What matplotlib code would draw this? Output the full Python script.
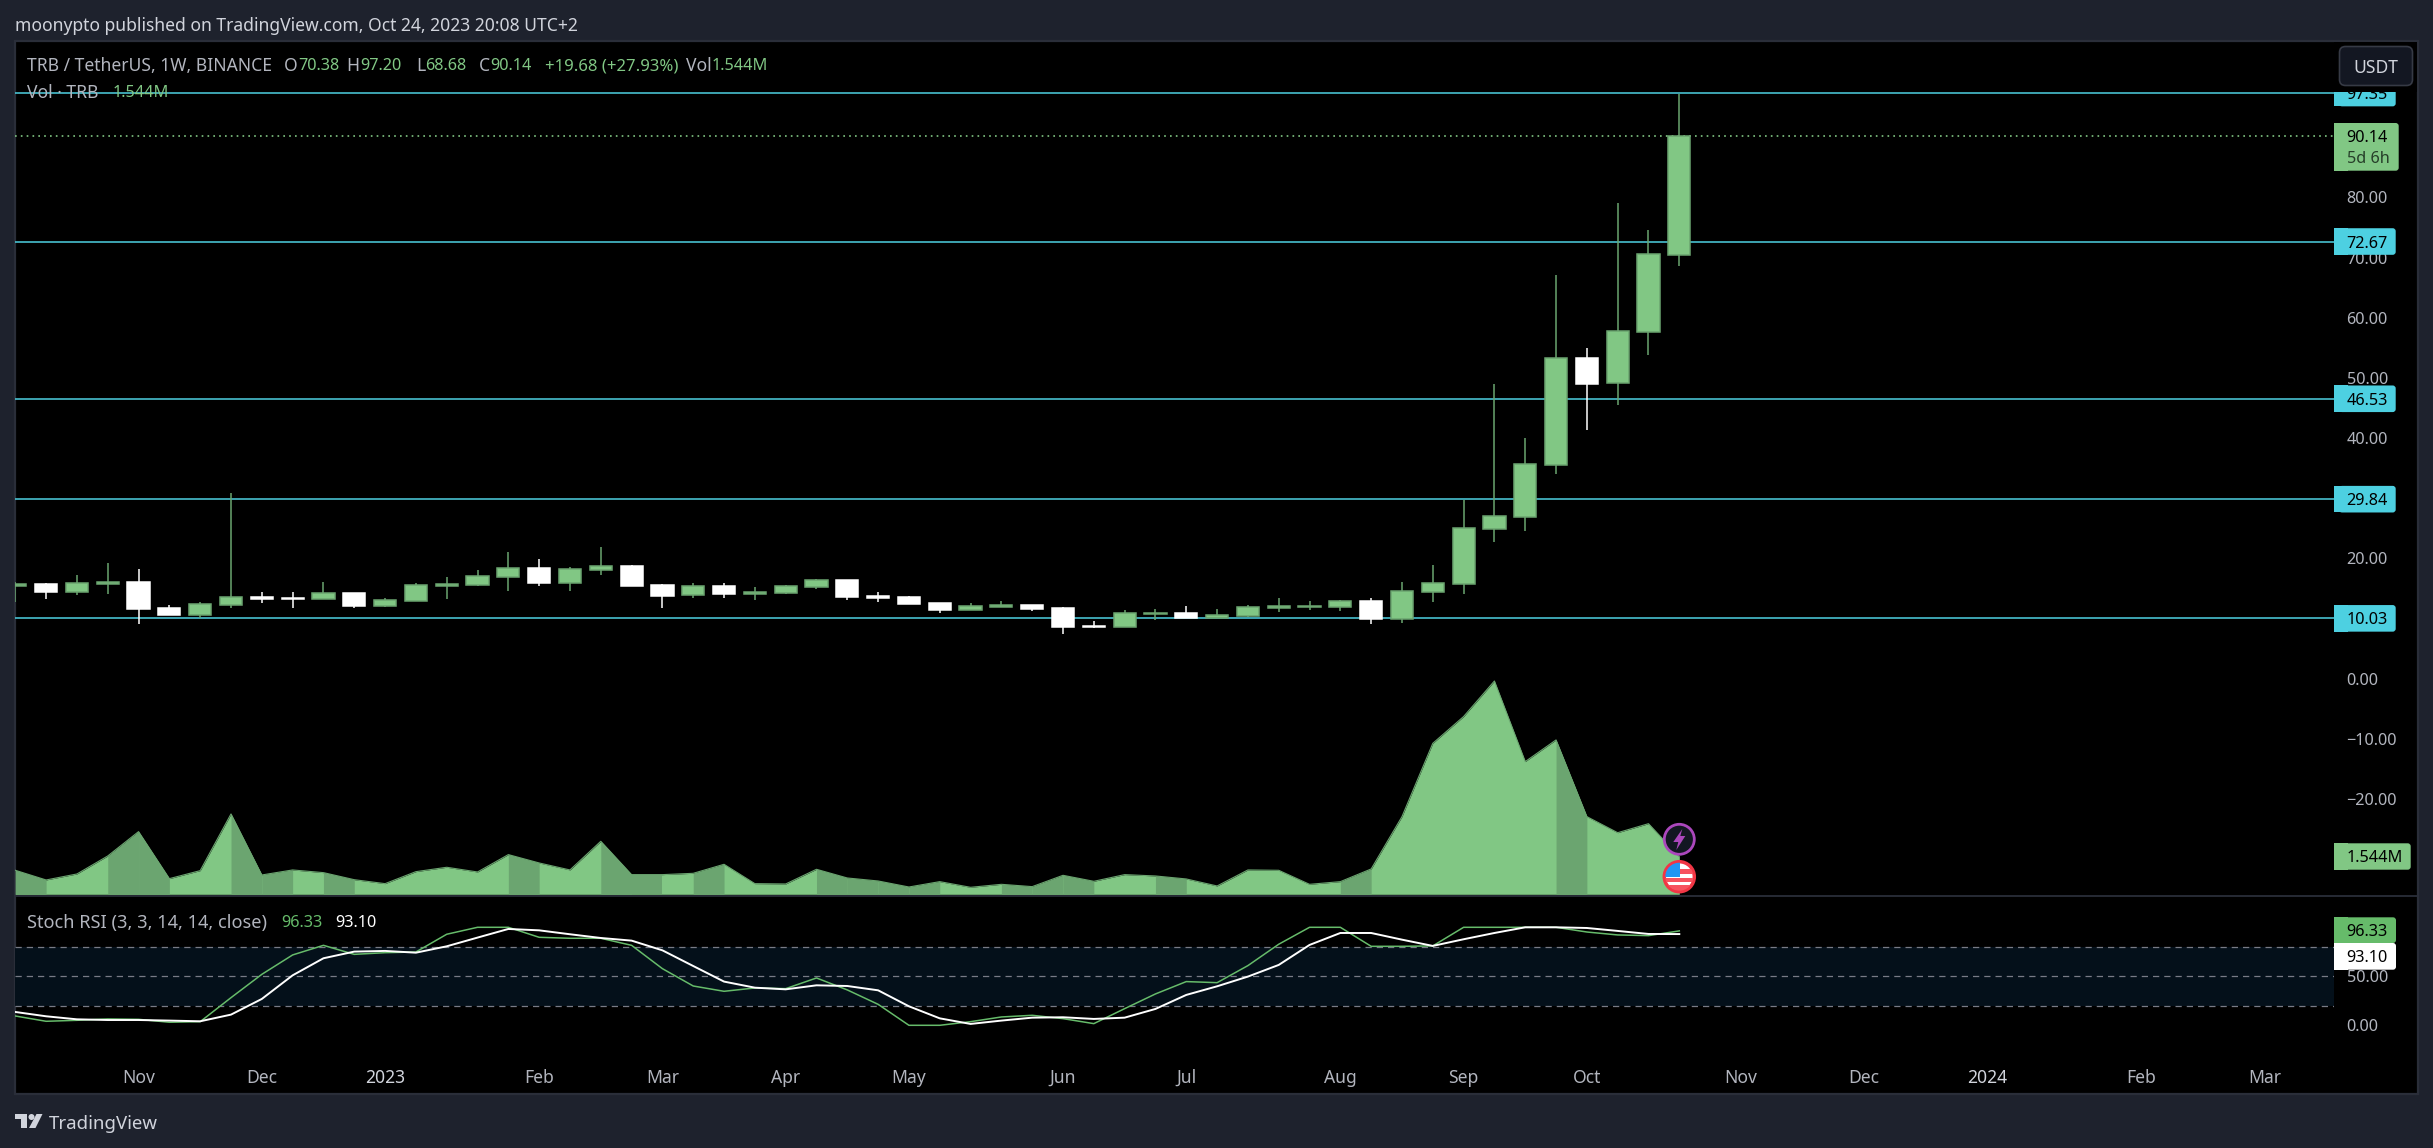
import matplotlib
matplotlib.use("Agg")
import matplotlib.pyplot as plt
from matplotlib.patches import Rectangle, FancyBboxPatch, Circle, Polygon

W, H = 2433, 1148

opens = [15.41, 15.74, 14.41, 15.74, 16.07, 11.75, 10.59, 12.25, 13.58, 13.42, 13.25, 14.25, 12.08, 12.92,
         15.41, 15.58, 16.9, 18.4, 15.9, 18.07, 18.73, 15.58, 13.91, 15.41, 14.08, 14.25, 15.24, 16.41,
         13.75, 13.58, 12.58, 11.42, 11.92, 12.25, 11.75, 8.76, 8.6, 10.76, 10.92, 10.09, 10.42, 11.75,
         11.92, 11.92, 12.92, 10.0, 14.45, 15.82, 24.96, 26.92, 35.58, 53.34, 49.18, 57.67, 70.38]
highs = [16.07, 15.9, 17.24, 19.23, 18.23, 12.25, 12.75, 30.8, 14.41, 14.41, 16.07, 14.25, 13.42, 15.9,
         16.9, 18.07, 21.06, 19.9, 18.57, 21.89, 18.9, 15.74, 15.9, 15.9, 15.24, 15.58, 16.57, 16.41,
         14.41, 13.75, 12.58, 12.58, 12.92, 12.25, 11.92, 9.59, 11.42, 11.59, 12.08, 11.59, 12.25, 13.42,
         12.92, 13.08, 13.42, 16.05, 18.9, 29.71, 48.98, 39.98, 67.11, 55.0, 79.04, 74.59, 97.2]
lows = [12.8, 13.25, 13.91, 14.08, 9.09, 10.59, 10.04, 11.75, 12.58, 11.75, 13.25, 11.75, 11.92, 12.92,
        13.25, 15.41, 14.58, 15.41, 14.58, 17.24, 15.41, 11.75, 13.42, 13.42, 13.08, 14.08, 14.91, 13.08,
        12.75, 12.42, 10.92, 11.42, 11.92, 11.25, 7.43, 8.43, 8.6, 9.76, 10.09, 10.09, 10.26, 11.09,
        11.42, 11.25, 9.09, 9.28, 12.67, 14.15, 22.76, 24.6, 34.1, 41.4, 45.56, 53.87, 68.68]
closes = [15.74, 14.41, 15.9, 16.07, 11.59, 10.59, 12.42, 13.58, 13.25, 13.25, 14.25, 12.08, 13.08, 15.58,
          15.74, 17.07, 18.4, 15.9, 18.23, 18.73, 15.41, 13.75, 15.41, 14.08, 14.41, 15.41, 16.41, 13.58,
          13.42, 12.42, 11.42, 12.08, 12.25, 11.59, 8.6, 8.6, 10.92, 10.92, 10.09, 10.59, 11.92, 12.08,
          12.08, 12.92, 9.92, 14.57, 15.93, 25.08, 26.97, 35.64, 53.28, 48.98, 57.73, 70.55, 90.14]
# millions
volume = [0.986, 0.589, 0.835, 1.574, 2.574, 0.643, 0.972, 3.30, 0.794, 1.0, 0.89, 0.60, 0.438, 0.93,
          1.11, 0.917, 1.63, 1.287, 1.0, 2.177, 0.808, 0.808, 0.862, 1.232, 0.438, 0.424, 1.027, 0.67,
          0.547, 0.30, 0.52, 0.287, 0.41, 0.315, 0.78, 0.534, 0.808, 0.753, 0.63, 0.342, 1.0, 0.986,
          0.41, 0.52, 1.04, 3.19, 6.2, 7.3, 8.76, 5.45, 6.34, 3.19, 2.53, 2.90, 1.544]
dark_segments = [0, 3, 4, 7, 8, 10, 16, 19, 20, 22, 26, 27, 28, 29, 32, 33, 34, 37, 43, 50]
stoch_k = [9.5, 4.1, 5.1, 6.5, 6.1, 3.1, 3.7, 28.2, 52.0, 71.8, 81.6, 72.4, 74.1, 74.8, 92.9, 100, 100,
           89.8, 88.8, 88.8, 81.6, 57.8, 40.1, 34.7, 38.1, 37.4, 48.3, 36.1, 21.4, 0, 0, 3.7, 8.5, 10.2,
           6.8, 1.7, 17.0, 32.0, 44.6, 43.5, 60.9, 82.7, 100, 100, 80.6, 80.6, 81.0, 100, 100, 100, 100,
           95.2, 92.2, 91.5, 96.33]
stoch_d = [13.6, 9.2, 6.1, 5.4, 5.4, 4.8, 4.1, 10.9, 26.9, 51.0, 68.4, 75.2, 75.9, 74.1, 80.6, 89.5, 98.3,
           96.9, 92.9, 89.1, 86.4, 76.5, 60.5, 44.6, 38.4, 36.7, 40.8, 40.1, 35.7, 19.4, 7.1, 1.4, 4.8, 7.8,
           8.2, 6.5, 7.8, 16.7, 31.0, 39.8, 49.7, 61.6, 82.0, 94.2, 94.2, 87.4, 81.0, 87.8, 94.2, 100, 100,
           99.3, 96.3, 93.2, 93.10]
levels = [97.35, 72.67, 46.53, 29.84, 10.03]
last_price = 90.14
price_ticks = [90, 80, 70, 60, 50, 40, 30, 20, 10, 0, -10, -20]
stoch_ticks = [100, 50, 0]
stoch_bands = [80, 50, 20]
month_pos = [4, 8, 12, 17, 21, 25, 29, 34, 38, 43, 47, 51, 56, 60, 64, 69, 73]
month_names = ["Nov", "Dec", "2023", "Feb", "Mar", "Apr", "May", "Jun", "Jul", "Aug", "Sep", "Oct",
               "Nov", "Dec", "2024", "Feb", "Mar"]

FONT = "Noto Sans"
BG = "#1e222d"
BORDER = "#2a2e39"
GREY = "#b2b5be"
GREEN = "#81c784"
GREEN_DK = "#6ba570"
GREEN_ST = "#66bb6a"
CYAN = "#4dd0e1"
FS = 12.6
FS_NUM = 11.7

plt.rcParams["font.family"] = FONT

# pixel layout
L, R = 15, 2334
TOP, SEP, BOT = 41, 896, 1094
BAR0, STEP = 15.3, 30.815
PRICE0, PX_PRICE = 678.7, 6.016
VOL0, PX_VOL = 894.3, 24.35
RSI0, PX_RSI = 1025.3, 0.98


def rect(x0, y0, x1, y1):
    return [x0 / W, 1 - y1 / H, (x1 - x0) / W, (y1 - y0) / H]


def price_y(p):
    return PRICE0 - p * PX_PRICE


fig = plt.figure(figsize=(W / 100, H / 100), dpi=100, facecolor=BG)

bg = fig.add_axes([0, 0, 1, 1], zorder=0)
bg.set_xlim(0, W)
bg.set_ylim(H, 0)
bg.axis("off")
bg.add_patch(Rectangle((L, TOP), 2418 - L, BOT - TOP, fc="black", ec=BORDER, lw=1.6))

xlim = ((L - BAR0) / STEP, (R - BAR0) / STEP)
x = list(range(len(closes)))

# price pane
ax = fig.add_axes(rect(L, TOP, R, SEP), zorder=1, facecolor="none")
ax.set_xlim(*xlim)
ax.set_ylim((PRICE0 - SEP) / PX_PRICE, (PRICE0 - TOP) / PX_PRICE)
for s in ax.spines.values():
    s.set_visible(False)
ax.set_xticks([])

for lv in levels:
    ax.axhline(lv, color=CYAN, lw=1.1, zorder=1)
ax.axhline(last_price, color=GREEN, lw=1.2, ls=(0, (1, 2.5)), zorder=1)

for i in x:
    up = closes[i] >= opens[i]
    edge = GREEN_DK if up else "white"
    fill = GREEN if up else "white"
    ax.vlines(i, lows[i], highs[i], color=edge, lw=1.1, zorder=2)
    ax.bar(i, abs(closes[i] - opens[i]), bottom=min(opens[i], closes[i]), width=0.72,
           color=fill, edgecolor=edge, linewidth=1.1, zorder=3)

# volume area, shares the price pane
ax_vol = ax.twinx()
ax_vol.set_ylim((VOL0 - SEP) / PX_VOL, (VOL0 - TOP) / PX_VOL)
ax_vol.set_yticks([])
for s in ax_vol.spines.values():
    s.set_visible(False)
ax_vol.fill_between(x, volume, 0, color=GREEN, lw=0)
for i in dark_segments:
    ax_vol.fill_between(x[i:i + 2], volume[i:i + 2], 0, color=GREEN_DK, lw=0)
ax_vol.plot(x, volume, color=GREEN_DK, lw=0.8)

# twinx moved the price ticks to the left
ax.yaxis.tick_right()
ax.set_yticks(price_ticks)
ax.set_yticklabels([f"{t:.2f}".replace("-", "\u2212") for t in price_ticks], color=GREY, fontsize=FS_NUM)
ax.tick_params(axis="y", length=0, pad=9)

# stoch rsi pane
rsi = fig.add_axes(rect(L, SEP, R, BOT), zorder=1, facecolor="none")
rsi.set_xlim(*xlim)
rsi.set_ylim((RSI0 - BOT) / PX_RSI, (RSI0 - SEP) / PX_RSI)
for s in rsi.spines.values():
    s.set_visible(False)
rsi.axhspan(stoch_bands[2], stoch_bands[0], color="#04101a", lw=0)
for b in stoch_bands:
    rsi.axhline(b, color="#787b86", lw=0.9, ls=(0, (5, 4)))
rsi.plot(x, stoch_k, color=GREEN_ST, lw=1.1)
rsi.plot(x, stoch_d, color="white", lw=1.4)
rsi.yaxis.tick_right()
rsi.set_yticks(stoch_ticks)
rsi.set_yticklabels([f"{t:.2f}" for t in stoch_ticks], color=GREY, fontsize=FS_NUM)
rsi.set_xticks(month_pos)
rsi.set_xticklabels(month_names, color=GREY, fontsize=FS)
for lab in rsi.get_xticklabels():
    if lab.get_text().startswith("20"):
        lab.set_color("#d1d4dc")
        lab.set_fontweight("bold")
rsi.tick_params(axis="y", length=0, pad=9)
rsi.tick_params(axis="x", length=0, pad=-18)

# overlay in pixels for tags, legends, icons
ov = fig.add_axes([0, 0, 1, 1], zorder=5, facecolor="none")
ov.set_xlim(0, W)
ov.set_ylim(H, 0)
ov.axis("off")

ov.plot([L, 2418], [SEP, SEP], color=BORDER, lw=1.3)


def tag(y0, y1, x1, col):
    ov.add_patch(FancyBboxPatch((R + 8, y0 + 3), x1 - R - 11, y1 - y0 - 6, boxstyle="round,pad=3,rounding_size=3",
                                fc=col, ec="none"))
    ov.add_patch(Rectangle((R, y0), 14, y1 - y0, fc=col, ec="none"))


def tag_text(y, s, col="black"):
    ov.text(2346.7, y, s, color=col, fontsize=FS_NUM, va="center_baseline", ha="left")


for lv in levels:
    yy = price_y(lv)
    tag(yy - 13.3, yy + 13.3, 2395.7, CYAN)
    tag_text(yy, f"{lv:.2f}")
tag(123, 170.7, 2398.7, GREEN)
tag_text(136.3, "90.14")
tag_text(157, "5d 6h", "#263f29")
tag(843.3, 869.7, 2410.7, GREEN)
tag_text(856.5, "1.544M")
tag(917.3, 943, 2396, GREEN_ST)
tag_text(930, f"{stoch_k[-1]:.2f}")
tag(943, 969.7, 2396, "white")
tag_text(956.5, f"{stoch_d[-1]:.2f}")

# the top tag is cut off under the currency button
ov.add_patch(Rectangle((R, TOP + 1), 2417 - R, 50, fc="black", ec="none", zorder=5))
ov.add_patch(FancyBboxPatch((2346, 53), 60, 26, boxstyle="round,pad=6.5,rounding_size=6", fc="#131722", ec="#363a45",
                            lw=1.2, zorder=6))
ov.text(2376, 66, "USDT", color="#d1d4dc", fontsize=FS, ha="center", va="center_baseline", zorder=7)


def label(px, y, s, col=GREY, size=FS, ha="left"):
    ov.text(px, y, s, color=col, fontsize=size, va="center_baseline", ha=ha)


label(15, 24, "moonypto published on TradingView.com, Oct 24, 2023 20:08 UTC+2", "#d1d4dc")
label(27, 64.3, "TRB / TetherUS, 1W, BINANCE")
for px, letter, value in [(298, "O", "70.38"), (360, "H", "97.20"), (425.5, "L", "68.68"), (490, "C", "90.14"),
                          (712, "Vol", "1.544M")]:
    label(px - 0.5, 64.3, letter, ha="right")
    label(px, 64.3, value, GREEN, FS_NUM)
label(545, 64.3, "+19.68 (+27.93%)", GREEN, 12)
label(27, 91, "Vol \u00b7 TRB")
label(113, 91, "1.544M", GREEN, FS_NUM)
label(27, 920.7, "Stoch RSI (3, 3, 14, 14, close)", size=13.1)
label(280.8, 920.7, f"{stoch_k[-1]:.2f}", GREEN_ST, FS_NUM)
label(335, 920.7, f"{stoch_d[-1]:.2f}", "white", FS_NUM)

# event icons
ix = 1679.3
ov.add_patch(Circle((ix, 839.3), 15, fc="#131722", ec="#ab47bc", lw=2))
ov.add_patch(Polygon([(ix + 3, 829), (ix - 6, 842), (ix - 1, 842), (ix - 3, 850), (ix + 6, 836), (ix + 1, 836)],
                     fc="#ab47bc", ec="none"))
flag = Circle((ix, 876.7), 15, fc="white", ec="#f23645", lw=2.5, zorder=3)
ov.add_patch(flag)
for y0, hh in [(869, 5), (878, 4), (885, 7)]:
    r = Rectangle((ix - 14, y0), 28, hh, fc="#f7525f", ec="none", zorder=4)
    ov.add_patch(r)
    r.set_clip_path(Circle((ix, 876.7), 14, transform=ov.transData))
blue = Rectangle((ix - 14, 862), 15, 15, fc="#2196f3", ec="none", zorder=5)
ov.add_patch(blue)
blue.set_clip_path(Circle((ix, 876.7), 14, transform=ov.transData))

# logo
LOGO = "#d1d4dc"
ov.add_patch(Polygon([(15, 1114), (27, 1114), (27, 1128), (21, 1128), (21, 1119), (15, 1119)], fc=LOGO, ec="none"))
ov.add_patch(Circle((31.5, 1117), 3, fc=LOGO, ec="none"))
ov.add_patch(Polygon([(36.5, 1114), (42.5, 1114), (35.5, 1128), (29, 1128)], fc=LOGO, ec="none"))
ov.text(49, 1122, "TradingView", color=LOGO, fontsize=13.4, va="center_baseline", ha="left")

fig.savefig("out.png", dpi=100, facecolor=BG)
